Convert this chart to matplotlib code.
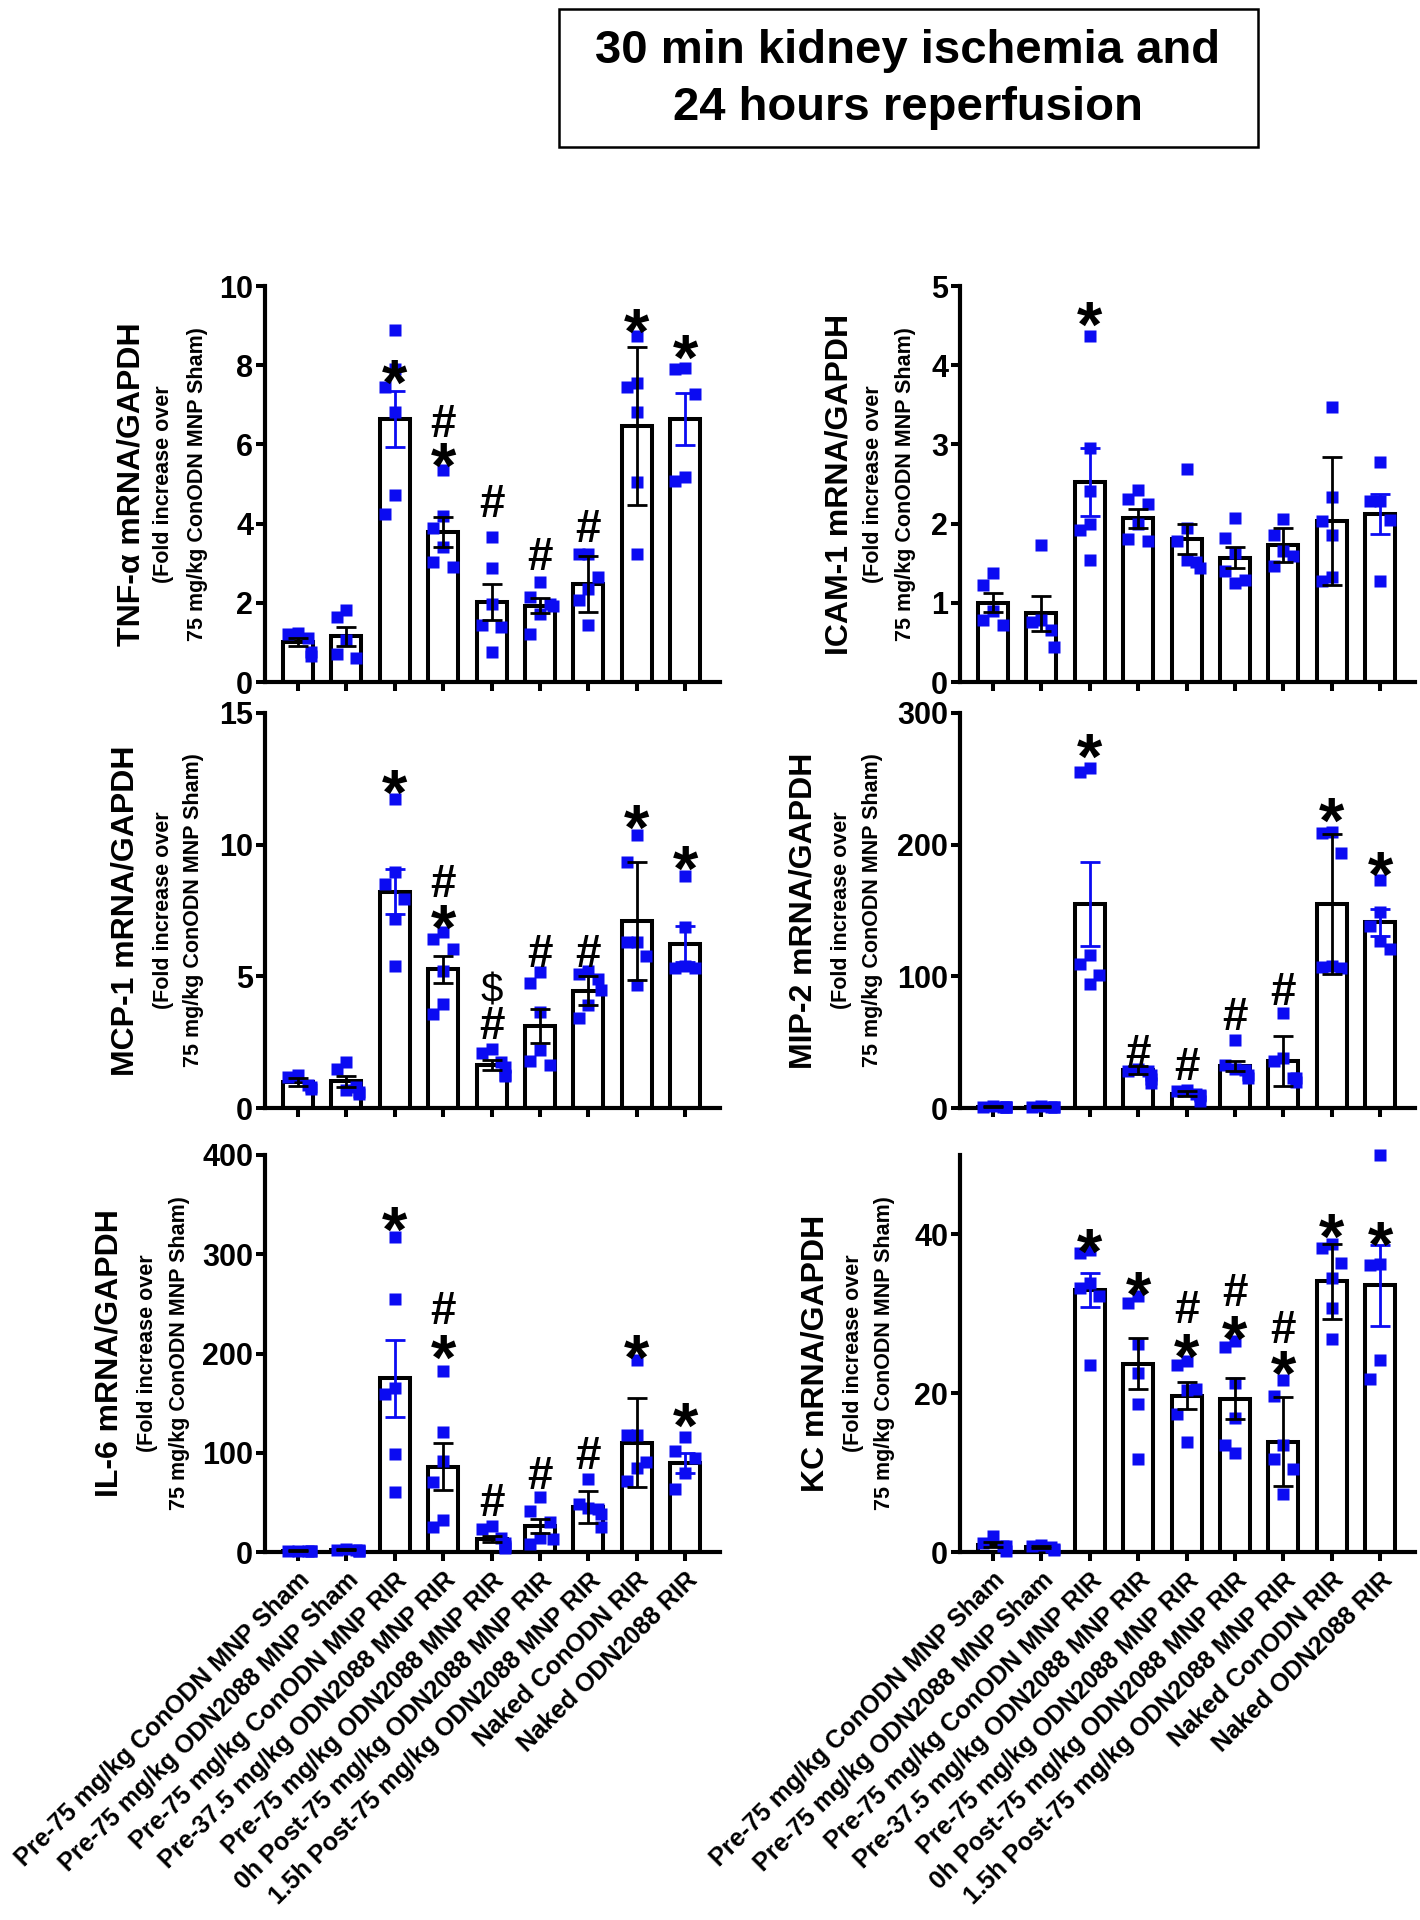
import matplotlib
matplotlib.use("Agg")
import matplotlib.pyplot as plt
from matplotlib.patches import Rectangle

plt.rcParams['font.family'] = ['Liberation Sans', 'DejaVu Sans']
plt.rcParams['font.weight'] = 'bold'

groups = ["Pre-75 mg/kg ConODN MNP Sham", "Pre-75 mg/kg ODN2088 MNP Sham",
          "Pre-75 mg/kg ConODN MNP RIR", "Pre-37.5 mg/kg ODN2088 MNP RIR",
          "Pre-75 mg/kg ODN2088 MNP RIR", "0h Post-75 mg/kg ODN2088 MNP RIR",
          "1.5h Post-75 mg/kg ODN2088 MNP RIR", "Naked ConODN RIR", "Naked ODN2088 RIR"]

# TNF-alpha
tnf_mean = [1.0, 1.15, 6.64, 3.78, 2.02, 1.93, 2.48, 6.47, 6.64]
tnf_sem = [0.1, 0.25, 0.7, 0.38, 0.45, 0.2, 0.7, 2.0, 0.65]
tnf_pts = [[1.2, 1.25, 1.1, 0.65, 0.75],
           [1.81, 1.64, 1.07, 0.61, 0.71],
           [8.9, 7.9, 7.44, 6.81, 4.71, 4.25],
           [5.35, 4.2, 3.9, 3.4, 2.9, 3.03],
           [3.66, 2.88, 1.97, 1.43, 1.4, 0.76],
           [2.52, 2.14, 1.97, 1.93, 1.72, 1.22],
           [3.24, 3.22, 2.65, 2.35, 2.06, 1.43],
           [8.74, 7.54, 7.45, 6.81, 5.04, 3.24],
           [7.94, 7.9, 7.27, 5.08, 5.18]]
tnf_marks = [(2, "*", 7.94), (3, "#", 6.6), (3, "*", 5.84), (4, "#", 4.58),
             (5, "#", 3.24), (6, "#", 3.95), (7, "*", 9.24), (8, "*", 8.57)]

# ICAM-1
icam_mean = [1.0, 0.87, 2.52, 2.07, 1.80, 1.57, 1.73, 2.03, 2.12]
icam_sem = [0.12, 0.22, 0.43, 0.12, 0.19, 0.13, 0.21, 0.81, 0.25]
icam_pts = [[1.38, 1.22, 0.9, 0.72, 0.78],
            [1.73, 0.78, 0.76, 0.66, 0.44],
            [4.37, 2.96, 2.41, 1.99, 1.92, 1.54],
            [2.42, 2.31, 2.25, 1.99, 1.80, 1.78],
            [2.69, 1.95, 1.78, 1.54, 1.52, 1.44],
            [2.07, 1.82, 1.63, 1.40, 1.29, 1.25],
            [2.06, 1.86, 1.66, 1.59, 1.46],
            [3.47, 2.33, 2.03, 1.85, 1.32, 1.27],
            [2.78, 2.28, 2.28, 2.05, 1.27]]
icam_marks = [(2, "*", 4.7)]

# MCP-1
mcp_mean = [1.0, 1.01, 8.22, 5.26, 1.64, 3.11, 4.46, 7.10, 6.23]
mcp_sem = [0.15, 0.22, 0.87, 0.5, 0.19, 0.65, 0.55, 2.25, 0.7]
mcp_pts = [[1.18, 1.24, 0.86, 0.8, 0.73],
           [1.75, 1.49, 0.8, 0.67, 0.54, 0.61],
           [11.74, 8.95, 8.51, 7.92, 7.18, 5.39],
           [6.68, 6.4, 6.02, 5.19, 3.96, 3.58],
           [2.25, 2.1, 1.75, 1.56, 1.24, 1.21],
           [5.16, 4.76, 3.64, 2.19, 1.77, 1.62],
           [5.2, 5.1, 4.9, 4.5, 3.9, 3.4],
           [10.37, 9.36, 6.32, 6.3, 5.77, 4.68],
           [8.8, 6.87, 5.39, 5.31, 5.31]]
mcp_marks = [(2, "*", 12.56), (3, "#", 8.64), (3, "*", 7.44), (4, "$", 4.53),
             (4, "#", 3.26), (5, "#", 5.98), (6, "#", 5.98), (7, "*", 11.23),
             (8, "*", 9.65)]

# MIP-2
mip_mean = [1.0, 1.0, 155, 29, 11, 32, 36, 155, 141]
mip_sem = [0.3, 0.3, 32, 3, 2, 4, 19, 53, 10]
mip_pts = [[0.8, 1.0, 1.2, 0.9, 1.1, 1.0],
           [0.7, 1.0, 1.3, 0.9, 1.1],
           [258, 255, 116, 109, 101, 94],
           [30, 28, 25, 22, 19, 28],
           [14, 13, 10, 9, 5, 11],
           [52, 33, 29, 25, 23, 30],
           [72, 38, 36, 23, 20, 23],
           [209, 210, 194, 107, 106, 108],
           [173, 149, 138, 127, 121]]
mip_marks = [(2, "*", 278), (3, "#", 44), (4, "#", 34), (5, "#", 72),
             (6, "#", 91), (7, "*", 230), (8, "*", 189)]

# IL-6
il6_mean = [1.5, 2.5, 175, 86, 13, 26, 45, 110, 90]
il6_sem = [0.5, 0.6, 39, 24, 3, 7, 16, 45, 10]
il6_pts = [[1.0, 1.2, 0.8, 0.9, 1.1],
           [2.5, 1.5, 2.0, 1.0, 3.0, 2.2],
           [317, 255, 165, 159, 99, 60],
           [182, 121, 92, 71, 32, 25],
           [26, 23, 14, 9, 4, 6],
           [55, 41, 30, 14, 13, 8],
           [74, 48, 43, 38, 25, 44],
           [193, 118, 118, 91, 85, 72],
           [116, 102, 95, 80, 63]]
il6_marks = [(2, "*", 340), (3, "#", 246), (3, "*", 211), (4, "#", 53),
             (5, "#", 80), (6, "#", 100), (7, "*", 211), (8, "*", 142)]

# KC
kc_mean = [0.9, 0.6, 33.0, 23.7, 19.7, 19.3, 13.9, 34.1, 33.6]
kc_sem = [0.3, 0.15, 2.2, 3.2, 1.7, 2.6, 5.6, 4.7, 5.1]
kc_pts = [[2.0, 1.1, 0.8, 0.7, 0.1],
          [0.9, 0.8, 0.6, 0.4, 0.3],
          [38.0, 37.6, 33.9, 33.3, 32.2, 23.6],
          [32.2, 31.4, 26.2, 22.5, 18.6, 11.7],
          [24.0, 23.5, 20.5, 20.4, 17.4, 13.8],
          [26.6, 25.8, 21.3, 16.9, 13.5, 12.5],
          [21.7, 19.7, 13.5, 11.7, 10.5, 7.3],
          [38.8, 38.3, 36.4, 34.5, 30.7, 26.8],
          [50.0, 36.3, 36.2, 24.2, 21.8]]
kc_marks = [(2, "*", 39.7), (3, "*", 34.3), (4, "#", 30.9), (4, "*", 26.5),
            (5, "#", 33.0), (5, "*", 28.8), (6, "#", 28.4), (6, "*", 24.3),
            (7, "*", 41.6), (8, "*", 40.6)]

W, H = 1420, 1920
BLUE = "#0b0bf2"
SUB1 = "(Fold increase over"
SUB2 = "75 mg/kg ConODN MNP Sham)"

fig = plt.figure(figsize=(W / 100, H / 100), dpi=100)


def swarm(vals, ymax, hpx):
    "spread points that sit too close, a bit like GraphPad does"
    thr = 28 * ymax / hpx
    order = sorted(range(len(vals)), key=lambda k: -vals[k])
    placed = []
    offs = [0.0] * len(vals)
    for k in order:
        v = vals[k]
        for off in [0.0, -0.2, 0.2, -0.1, 0.1, -0.27, 0.27]:
            if all(abs(v - pv) > thr or abs(off - po) > 0.15 for pv, po in placed):
                break
        placed.append((v, off))
        offs[k] = off
    return offs


def panel(x0, y0, y1, mean, sem, pts, marks, ymax, yticks, label, offs, xlabels=False):
    hpx = y1 - y0
    ax = fig.add_axes([x0 / W, 1 - y1 / H, 455 / W, hpx / H])
    xs = range(len(mean))
    ax.bar(xs, mean, width=0.62, color="white", edgecolor="black", linewidth=2.9, zorder=2)
    for i in xs:
        o = swarm(pts[i], ymax, hpx)
        ax.plot([i + d for d in o], pts[i], "s", color=BLUE, ms=8.5, mec="none", zorder=3,
                clip_on=False)
        ec = BLUE if i in (2, 8) else "black"
        ax.errorbar(i, mean[i], yerr=sem[i], fmt="none", ecolor=ec, elinewidth=2,
                    capsize=7, capthick=2, zorder=4)
    for i, t, y in marks:
        if t == "*":
            fs, k, fw = 47, 0.57, "bold"
        elif t == "#":
            fs, k, fw = 33, 0.36, "bold"
        else:
            fs, k, fw = 29, 0.35, "normal"
        ax.annotate(t, (i, y), xytext=(0, -k * fs), textcoords="offset points",
                    ha="center", va="baseline", fontsize=fs, fontweight=fw, zorder=5)
    ax.set_xlim(-0.68, 8.72)
    ax.set_ylim(0, ymax)
    ax.set_yticks(yticks)
    ax.set_yticklabels([str(t) for t in yticks], fontsize=22, fontweight="bold")
    ax.set_xticks(list(xs))
    if xlabels:
        ax.set_xticklabels(groups, rotation=45, ha="right", rotation_mode="anchor",
                           fontsize=18, fontweight="bold")
    else:
        ax.set_xticklabels([])
    ax.tick_params(axis="both", length=6.5, width=2.9, pad=2)
    ax.tick_params(axis="x", pad=5)
    for s in ["top", "right"]:
        ax.spines[s].set_visible(False)
    for s in ["left", "bottom"]:
        ax.spines[s].set_linewidth(3)
    yc = 1 - (y0 + y1) / 2 / H
    fig.text((x0 - offs[0]) / W, yc, label, rotation=90, ha="center", va="center",
             fontsize=23, fontweight="bold")
    fig.text((x0 - offs[1]) / W, yc, SUB1, rotation=90, ha="center", va="center",
             fontsize=15.5, fontweight="bold")
    fig.text((x0 - offs[2]) / W, yc, SUB2, rotation=90, ha="center", va="center",
             fontsize=15.5, fontweight="bold")
    return ax


panel(265, 286, 682, tnf_mean, tnf_sem, tnf_pts, tnf_marks, 10, [0, 2, 4, 6, 8, 10],
      "TNF-\u03b1 mRNA/GAPDH", (133, 101, 68))
panel(960, 286, 682, icam_mean, icam_sem, icam_pts, icam_marks, 5, [0, 1, 2, 3, 4, 5],
      "ICAM-1 mRNA/GAPDH", (120, 86, 54))
panel(265, 713, 1108, mcp_mean, mcp_sem, mcp_pts, mcp_marks, 15, [0, 5, 10, 15],
      "MCP-1 mRNA/GAPDH", (139, 102, 72))
panel(960, 713, 1108, mip_mean, mip_sem, mip_pts, mip_marks, 300, [0, 100, 200, 300],
      "MIP-2 mRNA/GAPDH", (156, 119, 87))
panel(265, 1155, 1552, il6_mean, il6_sem, il6_pts, il6_marks, 400, [0, 100, 200, 300, 400],
      "IL-6 mRNA/GAPDH", (155, 118, 85), xlabels=True)
panel(960, 1155, 1552, kc_mean, kc_sem, kc_pts, kc_marks, 50, [0, 20, 40],
      "KC mRNA/GAPDH", (144, 107, 75), xlabels=True)

# title box
fig.patches.append(Rectangle((559 / W, 1 - 147 / H), 699 / W, 138 / H, transform=fig.transFigure,
                             fill=False, edgecolor="black", linewidth=1.8))
fig.text(908 / W, 1 - 51 / H, "30 min kidney ischemia and", ha="center", va="center",
         fontsize=34, fontweight="bold")
fig.text(908 / W, 1 - 108 / H, "24 hours reperfusion", ha="center", va="center",
         fontsize=34, fontweight="bold")

fig.savefig("out.png", dpi=100)
